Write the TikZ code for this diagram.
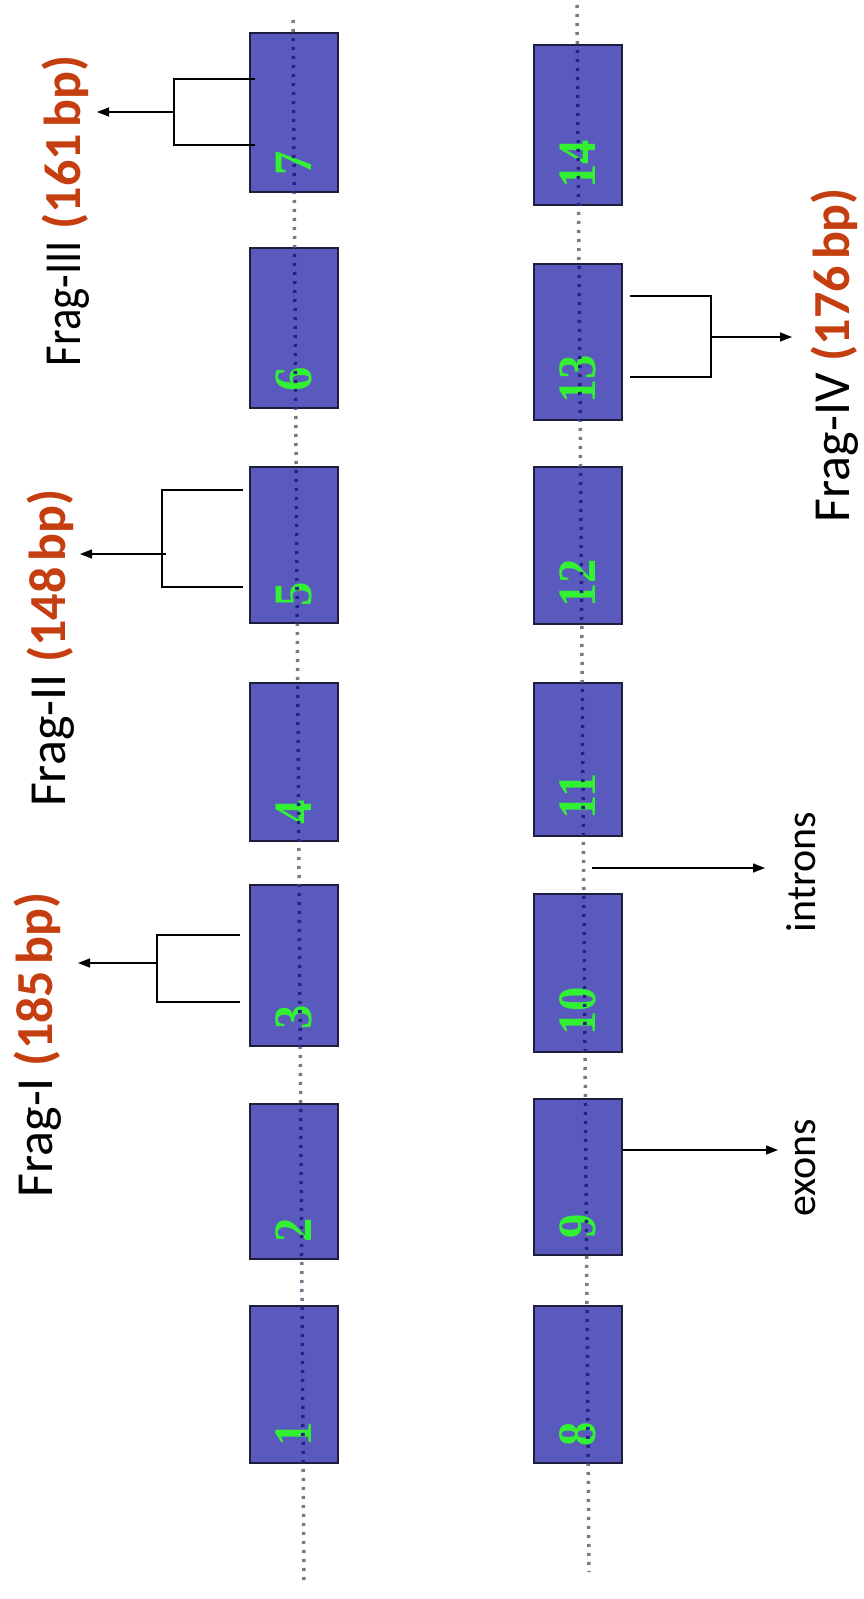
\documentclass[tikz,border=0pt]{standalone}
\usepackage{fontspec}
\setmainfont{Carlito}
\newfontfamily\numfont{Liberation Serif}
\usetikzlibrary{arrows.meta,calc}
\definecolor{exonfill}{RGB}{90,90,190}
\definecolor{exonline}{RGB}{30,30,60}
\definecolor{numgreen}{RGB}{50,240,50}
\definecolor{bporange}{RGB}{196,62,16}
\definecolor{intronout}{RGB}{120,120,145}
\definecolor{intronin}{RGB}{35,35,135}
\tikzset{
  exon/.style={draw=exonline, fill=exonfill, line width=1.5bp, minimum width=88bp, inner sep=0pt},
  exnum/.style={rotate=90, anchor=west, inner sep=0pt, text=numgreen,
    font=\numfont\bfseries\fontsize{54bp}{54bp}\selectfont},
  fraglabel/.style={rotate=90, anchor=base, inner sep=0pt, font=\fontsize{52bp}{52bp}\selectfont},
  smalllabel/.style={rotate=90, anchor=base, inner sep=0pt, font=\fontsize{42bp}{42bp}\selectfont},
  bracket/.style={line width=1.8bp, black},
  pointer/.style={line width=1.4bp, black, -{Triangle[length=12bp,width=9bp]}},
  intronline/.style={line width=3.5bp, dash pattern=on 3bp off 6bp}
}
\newcommand{\exonbox}[4]{%
  \node[exon, minimum height=#4bp] (e#1) at (#2,#3) {};
  \node[exnum] (n#1) at ($(e#1.south)+(0,-17)$) {\scalebox{0.9}[1]{#1}};}
\newcommand{\bp}[1]{{\bfseries\color{bporange}(#1\hspace{0.12em}bp)}}
\begin{document}
\begin{tikzpicture}[x=1bp,y=-1bp]
\fill[white] (0,0) rectangle (863,1599);
\useasboundingbox (0,0) rectangle (863,1599);
% exons, column 1
\exonbox{7}{294}{112.5}{159}
\exonbox{6}{294}{328}{160}
\exonbox{5}{294}{545}{156}
\exonbox{4}{294}{762}{158}
\exonbox{3}{294}{965.5}{161}
\exonbox{2}{294}{1181.5}{155}
\exonbox{1}{294}{1384.5}{157}
% exons, column 2
\exonbox{14}{578}{125}{160}
\exonbox{13}{578}{342}{156}
\exonbox{12}{578}{545.5}{157}
\exonbox{11}{578}{759.5}{153}
\exonbox{10}{578}{973}{158}
\exonbox{9}{578}{1177}{156}
\exonbox{8}{578}{1384.5}{157}
% intron lines
\coordinate (ia) at (293,20);
\coordinate (ib) at (304,1583);
\coordinate (ic) at (577,5);
\coordinate (id) at (589,1572);
\draw[intronline, intronout] (ia) -- (ib);
\draw[intronline, intronout] (ic) -- (id);
\begin{scope}
\clip (e1.south west) rectangle (e1.north east)
      (e2.south west) rectangle (e2.north east)
      (e3.south west) rectangle (e3.north east)
      (e4.south west) rectangle (e4.north east)
      (e5.south west) rectangle (e5.north east)
      (e6.south west) rectangle (e6.north east)
      (e7.south west) rectangle (e7.north east)
      (e8.south west) rectangle (e8.north east)
      (e9.south west) rectangle (e9.north east)
      (e10.south west) rectangle (e10.north east)
      (e11.south west) rectangle (e11.north east)
      (e12.south west) rectangle (e12.north east)
      (e13.south west) rectangle (e13.north east)
      (e14.south west) rectangle (e14.north east);
\draw[intronline, intronin] (ia) -- (ib);
\draw[intronline, intronin] (ic) -- (id);
\end{scope}
% labels
\node[fraglabel] (f3) at (80,211) {\scalebox{0.86}[1]{Frag-III} \bp{161}};
\node[fraglabel] (f2) at (65,648) {Frag-II \bp{148}};
\node[fraglabel] (f1) at (52,1045) {Frag-I \bp{185}};
\node[fraglabel] (f4) at (849,355) {Frag-IV \bp{176}};
\node[smalllabel] (lin) at (815,872) {introns};
\node[smalllabel] (lex) at (815,1168) {exons};
% Frag-III bracket
\coordinate (a3) at (255,79); \coordinate (b3) at (174,79);
\coordinate (c3) at (174,145); \coordinate (d3) at (255,145);
\coordinate (m3) at (174,112); \coordinate (t3) at (97,112);
\draw[bracket] (a3) -- (b3) -- (c3) -- (d3);
\draw[pointer] (m3) -- (t3);
% Frag-II bracket
\coordinate (a2) at (243,490); \coordinate (b2) at (162,490);
\coordinate (c2) at (162,587); \coordinate (d2) at (243,587);
\coordinate (m2) at (166,554); \coordinate (t2) at (80,554);
\draw[bracket, line width=1.3bp] (a2) -- (b2) -- (c2) -- (d2);
\draw[pointer] (m2) -- (t2);
% Frag-I bracket
\coordinate (a1) at (240,935); \coordinate (b1) at (157,935);
\coordinate (c1) at (157,1002); \coordinate (d1) at (240,1002);
\coordinate (m1) at (157,963); \coordinate (t1) at (78,963);
\draw[bracket] (a1) -- (b1) -- (c1) -- (d1);
\draw[pointer] (m1) -- (t1);
% Frag-IV bracket
\coordinate (a4) at (630,296); \coordinate (b4) at (711,296);
\coordinate (c4) at (711,377); \coordinate (d4) at (630,377);
\coordinate (m4) at (711,337); \coordinate (t4) at (792,337);
\draw[bracket] (a4) -- (b4) -- (c4) -- (d4);
\draw[pointer] (m4) -- (t4);
% introns / exons pointers
\coordinate (pin) at (592,868); \coordinate (tin) at (765,868);
\draw[pointer] (pin) -- (tin);
\coordinate (tex) at (778,1150);
\draw[pointer] (e9.east |- tex) -- (tex);
\end{tikzpicture}
\end{document}
